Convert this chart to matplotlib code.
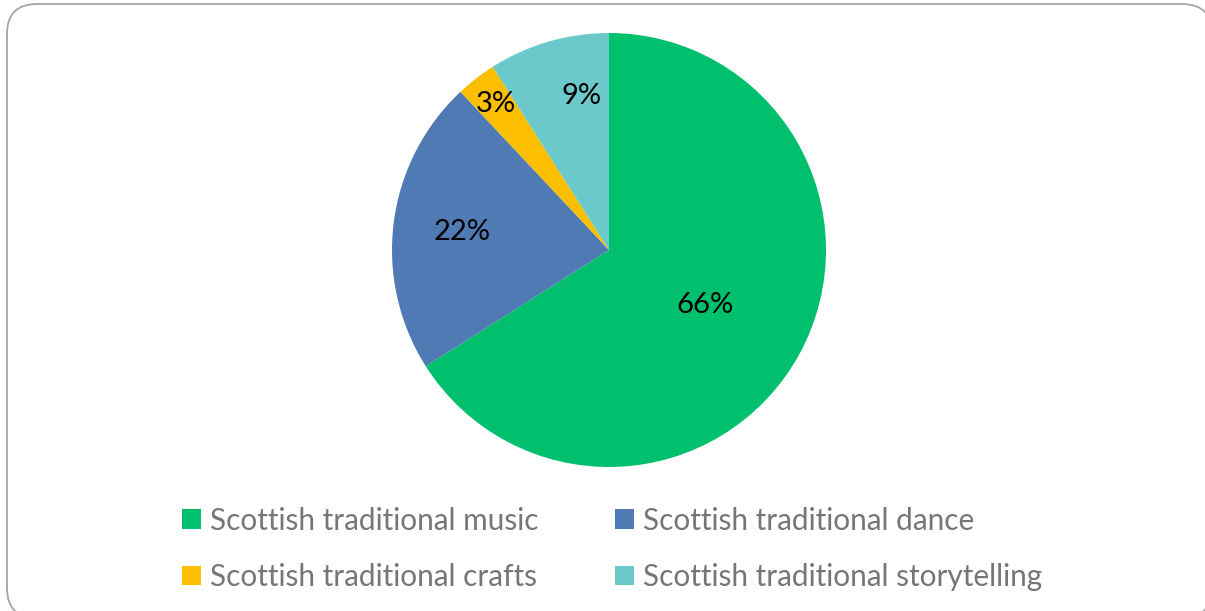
import numpy as np
import matplotlib
matplotlib.use("Agg")
import matplotlib.pyplot as plt
from matplotlib.patches import FancyBboxPatch, Patch
from matplotlib.transforms import IdentityTransform

# data
labels = ["Scottish traditional music", "Scottish traditional dance",
          "Scottish traditional crafts", "Scottish traditional storytelling"]
shares = [66, 22, 3, 9]
colors = ["#00C06E", "#4F7AB4", "#FBBF00", "#6CC9CB"]
label_dist = [0.51, 0.68, 0.85, 0.72]
label_nudge = [-1, 0, 0, -6]  # degrees

plt.rcParams['font.family'] = ['Lato', 'DejaVu Sans']

W, H = 1205, 611
fig = plt.figure(figsize=(W / 100, H / 100), dpi=100)

# rounded chart border (pixel coords); filled so Agg doesn't clip the curves badly
border = FancyBboxPatch((7, -7), 1205, 614,
                        boxstyle="round,pad=0,rounding_size=30",
                        transform=IdentityTransform(), facecolor="white",
                        edgecolor="#A6A6A6", linewidth=1.3, clip_on=False,
                        zorder=-1)
fig.patches.append(border)

cx, cy, r = 609, 250, 217
ax = fig.add_axes([(cx - r) / W, (H - cy - r) / H, 2 * r / W, 2 * r / H])
wedges, _ = ax.pie(shares, colors=colors, startangle=90, counterclock=False,
                   radius=1, wedgeprops=dict(linewidth=0))
ax.set_xlim(-1, 1)
ax.set_ylim(-1, 1)
ax.set_aspect("equal")
ax.axis("off")

for w, v, d, n in zip(wedges, shares, label_dist, label_nudge):
    ang = np.deg2rad((w.theta1 + w.theta2) / 2 + n)
    ax.text(d * np.cos(ang), d * np.sin(ang), f"{v}%", ha="center",
            va="center", fontsize=21, color="black")

handles = [Patch(facecolor=c, edgecolor="none") for c in colors]
order = [0, 2, 1, 3]
leg = fig.legend([handles[i] for i in order], [labels[i] for i in order],
                 ncol=2, loc="center", bbox_to_anchor=(0.508, 0.102),
                 frameon=False, fontsize=21.4, handlelength=0.62,
                 handleheight=0.62, handletextpad=0.3, columnspacing=2.6,
                 labelspacing=0.95)
for t in leg.get_texts():
    t.set_color("#767676")

fig.savefig("out.png", dpi=100)
